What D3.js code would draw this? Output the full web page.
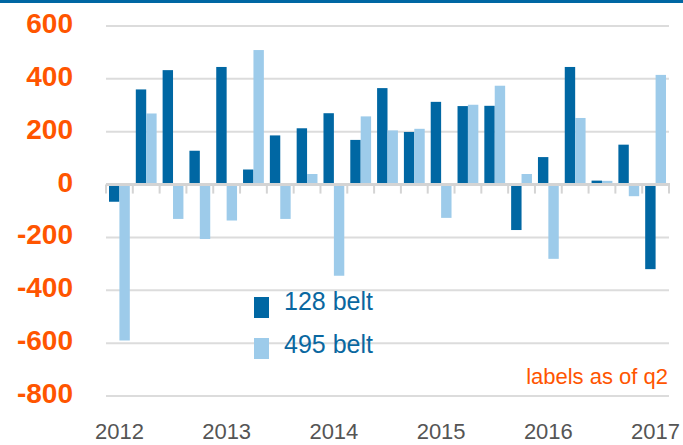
<!DOCTYPE html>
<html>
<head>
<meta charset="utf-8">
<title>128 belt vs 495 belt</title>
<script src="https://cdnjs.cloudflare.com/ajax/libs/d3/7.8.5/d3.min.js"></script>
<style>
body { margin: 0; background: #fff; }
svg { display: block; font-family: "Liberation Sans", Arial, sans-serif; }
.grid line { stroke: #dcdcdc; stroke-width: 2; }
.ylab { fill: #ff5500; font-weight: bold; font-size: 28px; }
.xlab { fill: #555; font-size: 22px; }
.legend text { fill: #0a67a0; font-size: 25px; }
.note { fill: #ff5500; font-size: 22px; }
</style>
</head>
<body>
<div id="chart"></div>
<script>
// quarters, 2012 q2 .. 2017 q2
var quarters = ["2012q2","2012q3","2012q4","2013q1","2013q2","2013q3","2013q4",
  "2014q1","2014q2","2014q3","2014q4","2015q1","2015q2","2015q3","2015q4",
  "2016q1","2016q2","2016q3","2016q4","2017q1","2017q2"];
var belt128 = [-65, 360, 433, 128, 445, 57, 186, 213, 270, 169, 365, 199, 313, 297, 298, -172, 104, 445, 15, 151, -320];
var belt495 = [-590, 269, -130, -206, -136, 509, -130, 40, -345, 258, 205, 211, -126, 302, 374, 40, -281, 252, 14, -44, 415];
var seriesNames = ["128 belt", "495 belt"];
var yTicks = [600, 400, 200, 0, -200, -400, -600, -800];
var yearTicks = ["2012q2","2013q2","2014q2","2015q2","2016q2","2017q2"];

var colors = ["#0067a3", "#9dcbea"];
var W = 683, H = 445;

var svg = d3.select("#chart").append("svg")
  .attr("width", W).attr("height", H);

// blue band on top
svg.append("rect").attr("x", 0).attr("y", 0)
  .attr("width", W).attr("height", 3).attr("fill", "#0067a3");

var x = d3.scaleBand().domain(quarters).range([106, 669]).padding(0);
var x1 = d3.scaleBand().domain([0, 1]).range([3, x.bandwidth() - 3]).padding(0);
var y = d3.scaleLinear().domain([-800, 600]).range([396, 26]);

// gridlines
svg.append("g").attr("class", "grid")
  .selectAll("line").data(yTicks.filter(d => d != 0)).enter().append("line")
  .attr("x1", 106).attr("x2", 669)
  .attr("y1", d => y(d)).attr("y2", d => y(d));

svg.append("g").selectAll("text").data(yTicks).enter().append("text")
  .attr("class", "ylab")
  .attr("x", 73).attr("y", d => y(d) + 7)
  .attr("text-anchor", "end")
  .text(d => d);

// bars
var rows = quarters.map((q, i) => ({q: q, v: [belt128[i], belt495[i]]}));
var grp = svg.append("g").selectAll("g").data(rows).enter().append("g")
  .attr("transform", d => "translate(" + x(d.q) + ",0)");
grp.selectAll("rect").data(d => d.v.map((v, k) => ({k: k, v: v}))).enter().append("rect")
  .attr("x", d => x1(d.k))
  .attr("width", x1.bandwidth())
  .attr("y", d => y(Math.max(0, d.v)))
  .attr("height", d => Math.abs(y(d.v) - y(0)))
  .attr("fill", d => colors[d.k]);

// zero line + ticks
var bounds = quarters.map(q => x(q)).concat([x.range()[1]]);
svg.append("line").attr("x1", 106).attr("x2", 670)
  .attr("y1", y(0)).attr("y2", y(0))
  .attr("stroke", "#d4d4d4").attr("stroke-width", 3);
svg.append("g").selectAll("line").data(bounds).enter().append("line")
  .attr("x1", d => d).attr("x2", d => d)
  .attr("y1", y(0)).attr("y2", y(0) + 9)
  .attr("stroke", "#d4d4d4").attr("stroke-width", 2);

// year labels
svg.append("g").selectAll("text").data(yearTicks).enter().append("text")
  .attr("class", "xlab")
  .attr("x", d => x(d) + x.bandwidth() / 2)
  .attr("y", 439)
  .attr("text-anchor", "middle")
  .text(d => d.slice(0, 4));

// legend
var lg = svg.append("g").attr("class", "legend");
seriesNames.forEach((name, k) => {
  lg.append("rect").attr("x", 254).attr("y", 297 + k * 41)
    .attr("width", 15).attr("height", 21).attr("fill", colors[k]);
  lg.append("text").attr("x", 284).attr("y", 310 + k * 43).text(name);
});

svg.append("text").attr("class", "note")
  .attr("x", 668).attr("y", 384)
  .attr("text-anchor", "end")
  .text("labels as of q2");
</script>
</body>
</html>
